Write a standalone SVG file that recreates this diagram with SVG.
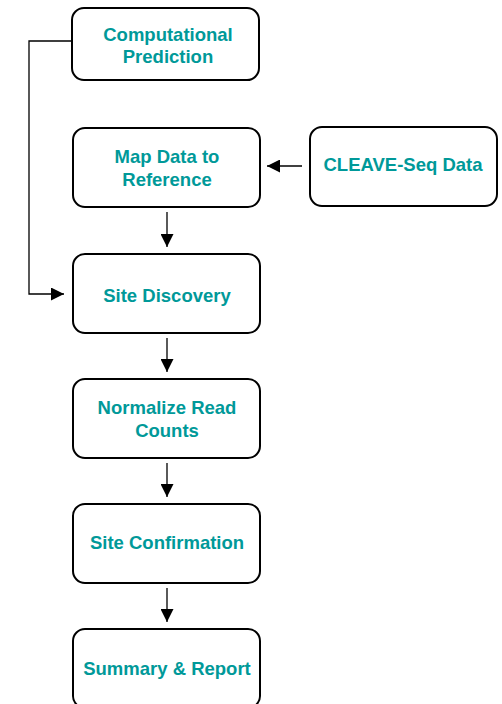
<svg xmlns="http://www.w3.org/2000/svg" width="502" height="704" viewBox="0 0 502 704">
<defs>
<style>
.box{fill:#fff;stroke:#000;stroke-width:2}
.t{font-family:"Liberation Sans",Arial,sans-serif;font-weight:bold;font-size:18.5px;fill:#009999;text-anchor:middle}
.c{fill:none;stroke:#000;stroke-width:1.3}
</style>
<marker id="ah" markerWidth="14" markerHeight="13" refX="13" refY="6.5" orient="auto" markerUnits="userSpaceOnUse">
<path d="M0,0 L13,6.5 L0,13 Z" fill="#000"/>
</marker>
</defs>
<rect width="502" height="704" fill="#fff"/>
<g id="connectors">
<path class="c" d="M72,41 H29 V294 H64" marker-end="url(#ah)"/>
<path class="c" d="M302,166 H267" marker-end="url(#ah)"/>
<path class="c" d="M167,212 V247" marker-end="url(#ah)"/>
<path class="c" d="M167,338 V372" marker-end="url(#ah)"/>
<path class="c" d="M167,463 V497" marker-end="url(#ah)"/>
<path class="c" d="M167,588 V622" marker-end="url(#ah)"/>
</g>
<g id="computational-prediction">
<rect class="box" x="72" y="8" width="187" height="72" rx="12"/>
<text class="t" x="168" y="41">Computational</text>
<text class="t" x="168" y="63">Prediction</text>
</g>
<g id="map-data">
<rect class="box" x="73" y="128" width="187" height="79" rx="12"/>
<text class="t" x="167" y="163">Map Data to</text>
<text class="t" x="167" y="186">Reference</text>
</g>
<g id="cleave-seq">
<rect class="box" x="310" y="127" width="187" height="79" rx="12"/>
<text class="t" x="403" y="171">CLEAVE-Seq Data</text>
</g>
<g id="site-discovery">
<rect class="box" x="73" y="254" width="187" height="79" rx="12"/>
<text class="t" x="167" y="302">Site Discovery</text>
</g>
<g id="normalize">
<rect class="box" x="73" y="379" width="187" height="79" rx="12"/>
<text class="t" x="167" y="414">Normalize Read</text>
<text class="t" x="167" y="437">Counts</text>
</g>
<g id="site-confirmation">
<rect class="box" x="73" y="504" width="187" height="79" rx="12"/>
<text class="t" x="167" y="549">Site Confirmation</text>
</g>
<g id="summary">
<rect class="box" x="73" y="629" width="187" height="79" rx="12"/>
<text class="t" x="167" y="675">Summary &amp; Report</text>
</g>
</svg>
